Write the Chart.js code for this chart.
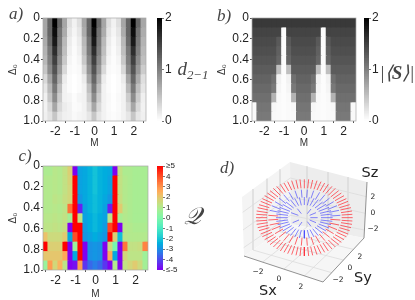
<!DOCTYPE html>
<html><head><meta charset="utf-8">
<style>
html,body{margin:0;padding:0;background:#fff;width:415px;height:300px;overflow:hidden}
#wrap{position:relative;width:415px;height:300px;filter:blur(0.35px)}
canvas{position:absolute}
.t{position:absolute;transform:translate(-50%,-50%);white-space:nowrap;color:#222;font-family:"DejaVu Sans",sans-serif;line-height:1}
.m{font-family:"Liberation Serif",serif;font-style:italic;color:#444}
sub{font-size:.68em;vertical-align:-.35em;line-height:0}
</style>
<script src="https://cdn.jsdelivr.net/npm/chart.js@4"></script>
</head><body><div id="wrap"></div>
<script>
const mValues=[-2.5,-2.25,-2,-1.75,-1.5,-1.25,-1,-0.75,-0.5,-0.25,0,0.25,0.5,0.75,1,1.25,1.5,1.75,2,2.25,2.5];
const deltaTicks=[0,0.2,0.4,0.6,0.8,1];
const d21Ticks=[0,1,2];
const spinTicks=[0,1,2];
const qTicks=[-5,-4,-3,-2,-1,0,1,2,3,4,5];

const d21Grid=[
[.7,1.2,2,1.2,.7,.25,.1,.25,.7,1.2,2,1.2,.7,.25,.1,.25,.7,1.2,2,1.2,.7],
[.7,1.2,1.9,1.1,.65,.2,.08,.2,.65,1.2,1.9,1.1,.65,.2,.08,.2,.65,1.2,1.9,1.1,.65],
[.65,1.15,1.8,1.05,.55,.15,.05,.15,.55,1.1,1.8,1.05,.55,.15,.05,.15,.55,1.15,1.8,1.05,.6],
[.6,1.05,1.65,1,.5,.12,.03,.12,.5,1.05,1.65,1,.5,.12,.03,.12,.5,1.05,1.65,1,.55],
[.55,1,1.5,.9,.42,.08,.02,.08,.42,.95,1.5,.9,.42,.08,.02,.08,.42,1,1.5,.9,.5],
[.45,.9,1.35,.8,.3,.05,.02,.05,.3,.85,1.35,.8,.3,.05,.02,.05,.3,.9,1.35,.8,.4],
[.3,.7,1.2,.65,.15,.03,0,.03,.15,.7,1.2,.65,.15,.03,0,.03,.15,.7,1.2,.65,.25],
[.2,.55,1.05,.5,.1,.03,0,.03,.1,.5,1.05,.5,.1,.03,0,.03,.1,.55,1.05,.5,.2],
[.12,.45,.9,.4,.1,.08,.02,.08,.1,.4,.9,.4,.1,.05,.01,.05,.1,.4,.9,.4,.12],
[.1,.3,.7,.3,.15,.1,.03,.05,.1,.3,.7,.3,.1,.04,.01,.04,.1,.3,.7,.3,.1],
[.12,.22,.45,.2,.12,.1,.05,.08,.1,.2,.45,.2,.1,.05,.02,.05,.1,.2,.45,.2,.12]];

const spinGrid=[
[1.55,1.55,1.55,1.55,1.55,1.55,1.55,1.55,1.55,1.55,1.55,1.55,1.55,1.55,1.55,1.55,1.55,1.55,1.55,1.55,1.55],
[1.47,1.47,1.47,1.47,1.47,1.47,.02,1.47,1.47,1.47,1.47,1.47,1.47,1.47,.02,1.47,1.47,1.47,1.47,1.47,1.47],
[1.42,1.42,1.42,1.42,1.42,1.3,.02,1.3,1.42,1.42,1.42,1.42,1.42,1.3,.02,1.3,1.42,1.42,1.42,1.42,1.42],
[1.38,1.38,1.38,1.38,1.38,1.25,.02,1.25,1.38,1.38,1.38,1.38,1.38,1.25,.02,1.25,1.38,1.38,1.38,1.38,1.38],
[1.33,1.33,1.33,1.33,1.33,1.2,.02,1.2,1.33,1.33,1.33,1.33,1.33,1.2,.02,1.2,1.33,1.33,1.33,1.33,1.33],
[1.28,1.28,1.28,1.28,1.28,.5,.02,.5,1.28,1.28,1.28,1.28,1.28,.5,.02,.5,1.28,1.28,1.28,1.28,1.28],
[1.22,1.22,1.22,1.22,1.12,.1,.02,.1,1.12,1.22,1.22,1.22,1.12,.1,.02,.1,1.12,1.22,1.22,1.22,1.22],
[1.18,1.18,1.18,1.18,1.05,.08,.02,.08,1.05,1.18,1.18,1.18,1.05,.08,.02,.08,1.05,1.18,1.18,1.18,1.18],
[1.13,1.13,1.13,1.13,.6,.05,.02,.05,.6,1.13,1.13,1.13,.6,.05,.02,.05,.6,1.13,1.13,1.13,1.13],
[.05,1.08,1.08,1.08,.06,.04,.02,.04,.06,1.08,1.08,1.08,.06,.04,.02,.04,.06,1.08,1.08,1.08,.05],
[.05,1.05,1.05,1.05,.05,.04,.02,.04,.05,1.05,1.05,1.05,.05,.04,.02,.04,.05,1.05,1.05,1.05,.05]];

const qGrid=[
[.9,.9,1.1,1,1.3,1.8,-5,-2.7,-2.6,-2.4,-2.1,-2.4,-2.5,-2.6,-5,1.3,.9,.9,.8,.8,.8],
[1,1,1.1,1,1.3,1.7,5,-2.7,-2.6,-2.4,-2.1,-2.4,-2.5,-2.7,5,1.3,1,.9,.8,.8,.8],
[1,1,1.1,1,1.3,1.6,5,-2.7,-2.6,-2.4,-2.1,-2.4,-2.5,-2.7,5,1.3,1,.9,.8,.8,.8],
[1,1,1.2,1.1,1.4,1.6,5,-2.9,-2.6,-2.4,-2.2,-2.4,-2.6,-2.9,5,1.4,1,.9,.8,.8,.8],
[1,1,1.1,1,1.2,3.5,5,-4.6,-2.7,-2.4,-2.2,-2.4,-2.7,-4.6,5,1.9,1.1,.9,.8,.8,.8],
[1.1,1.1,1.2,1.1,1.3,.7,5,1.2,-2.7,-2.5,-2.3,-2.5,-2.7,1.2,5,.8,1,.9,.8,.8,.8],
[1.2,1.2,1.3,1.2,1.4,-5,5,5,-2.8,-2.5,-2.3,-2.5,-2.8,4.1,5,-5,1.1,1,.9,.9,.9],
[2.1,1.5,1.5,1.5,1.9,-2.6,4,5,-2.9,-2.7,-2.5,-2.7,-2.9,5,1.8,-2.2,1.1,1,1,1,1],
[5,1.8,1.8,1.8,5,-5,.5,5,-5,-3,-2.9,-3,-5,1.5,-.2,-5,3.4,1.3,1.3,1.4,3.2],
[2,2,2,2,2.6,-5,-2.6,5,-5,-3,-2.9,-3,-5,2.6,-2.6,-5,1.6,1.2,1.2,1.2,.6],
[.5,2.8,1.6,2.4,1.2,-5,-4.8,2.8,-4.3,-3.6,-3.3,-3.6,-4.3,-5,1,-5,1.3,1.6,1.9,1.5,.7]];

// panel d: arrows, [x0,y0,x1,y1]
const redSegments=[
[395,218,428,218],[393,233,426,238],[388,248,419,257],[380,262,409,275],[369,275,394,292],[355,285,376,306],[339,294,355,318],[321,301,333,326],[302,305,308,331],[283,306,283,333],
[393,203,426,198],[388,188,419,179],[380,174,409,161],[369,161,394,144],[355,151,376,130],[339,142,355,118],[321,135,333,110],[302,131,308,105],[283,130,283,103],
[264,131,258,105],[245,135,233,110],[227,142,211,118],[211,151,190,130],[197,161,172,144],[186,174,157,161],[178,188,147,179],[173,203,140,198],[171,218,138,218],
[173,233,140,238],[178,248,147,257],[186,262,157,275],[197,275,172,292],[211,285,190,306],[227,294,211,318],[245,301,233,326],[264,305,258,331],
[395,226,427,228],[391,241,423,248],[384,255,414,267],[375,269,402,284],[362,280,386,299],[347,290,366,312],[330,298,344,322],[312,303,321,329],[293,306,296,333],
[395,210,427,208],[391,195,423,188],[384,181,414,169],[375,167,402,152],[362,156,386,137],[347,146,366,124],[330,138,344,114],[312,133,321,107],[293,130,296,103],
[171,210,139,208],[175,195,143,188],[182,181,152,169],[191,167,164,152],[204,156,180,137],[219,146,200,124],[236,138,222,114],[254,133,245,107],[273,130,270,103],
[171,226,139,228],[175,241,143,248],[182,255,152,267],[191,269,164,284],[204,280,180,299],[219,290,200,312],[236,298,222,322],[254,303,245,329],[273,306,270,333],
[361,223,391,225],[354,243,381,254],[338,260,359,277],[316,272,329,294],[290,278,292,302],[263,276,255,299],[238,267,221,287],[219,252,195,266],[208,234,179,240],[205,213,175,211],
[358,234,387,240],[347,252,371,266],[328,267,345,287],[303,276,311,299],[276,278,274,302],[250,272,237,294],[228,260,207,277],[212,243,185,254],[205,223,175,225]];
const blueSegments=[
[332,225,367,229],[326,237,357,249],[315,247,338,265],[300,254,312,276],[283,256,283,280],[266,254,254,276],[251,247,228,265],[240,237,209,249],[234,225,199,229],
[234,211,199,207],[240,199,209,187],[251,189,228,171],[266,182,254,160],[283,180,283,156],[300,182,312,160],[315,189,338,171],[326,199,357,187],[332,211,367,207],
[333,218,368,218],[330,231,363,239],[321,242,348,258],[308,251,325,272],[292,255,298,279],[274,255,268,279],[258,251,241,272],[245,242,218,258],[236,231,203,239],
[233,218,198,218],[236,205,203,197],[245,194,218,178],[258,185,241,164],[274,181,268,157],[292,181,298,157],[308,185,325,164],[321,194,348,178],[330,205,363,197],
[208,202,179,196],[219,184,195,170],[238,169,221,149],[263,160,255,137],[290,158,292,134],[316,164,329,142],[338,176,359,159],[354,193,381,182],[361,213,391,211],
[212,193,185,182],[228,176,207,159],[250,164,237,142],[276,158,274,134],[303,160,311,137],[328,169,345,149],[347,184,371,170],[358,202,387,196],
[301,218,323,218],[299,225,318,233],[292,230,303,244],[276,231,266,245],[267,225,248,233],[265,211,243,203],[274,206,262,191],[292,206,303,192],[299,211,318,203]];
const leftWall=[[96,156],[240,51],[243,237],[102,333],[96,156]];
const rightWall=[[240,51],[471,111],[462,279],[243,237],[240,51]];
const floorPane=[[102,333],[243,237],[462,279],[339,411],[102,333]];
const gridSegments=[
[129,132,129,315],[171,101,171,286],[210,73,210,260],[291,64,291,246],[354,81,354,258],[414,96,414,269],
[98,202,241,99],[99,255,241,155],[101,308,242,211],[241,99,469,155],[241,155,466,205],[242,211,463,255],
[158,351,291,246],[222,372,354,258],[283,393,414,269],[129,315,365,383],[171,286,400,345],[210,260,430,313]];
const edgeSegments=[[102,333,339,411],[339,411,462,279],[462,279,471,111]];

Chart.defaults.font.family='"Liberation Sans",Arial,sans-serif';
Chart.defaults.color='#222';
const wrap=document.getElementById('wrap');
function mk(x,y,w,h){const c=document.createElement('canvas');c.width=w;c.height=h;c.style.left=x+'px';c.style.top=y+'px';c.style.width=w+'px';c.style.height=h+'px';wrap.appendChild(c);return c;}
const grayColor=v=>{const g=Math.round(255*(1-Math.min(2,Math.max(0,v))/2));return `rgb(${g},${g},${g})`;};
const rainbowColor=v=>{const t=(Math.max(-5,Math.min(5,v))+5)/10;
 const r=Math.min(1,Math.abs(2*t-.5)),g=Math.sin(Math.PI*t),b=Math.cos(Math.PI*t/2);
 return `rgb(${Math.round(r*255)},${Math.round(g*245)},${Math.round(b*240)})`;};
const framePlugin={id:'frame',afterDatasetsDraw(ch){const a=ch.chartArea,c=ch.ctx;c.save();c.strokeStyle='#a8a8a8';c.lineWidth=.7;c.strokeRect(a.left,a.top,a.right-a.left,a.bottom-a.top);c.restore();}};

function heat(x,y,w,h,pad,axW,axH,grid,colorOf){
 const rows=grid.length;
 const datasets=grid.map((row,i)=>({data:row.map(()=>[i/rows-.012,(i+1)/rows]),backgroundColor:row.map(colorOf),borderWidth:0,barPercentage:1.22,categoryPercentage:1,grouped:false}));
 new Chart(mk(x,y,w,h),{type:'bar',data:{labels:mValues,datasets},plugins:[framePlugin],options:{
  responsive:false,animation:false,devicePixelRatio:1,layout:{padding:pad},
  plugins:{legend:{display:false},tooltip:{enabled:false}},
  scales:{
   x:{type:'category',grid:{display:true,drawOnChartArea:false,tickLength:2,tickColor:'#555'},border:{display:false},
      ticks:{autoSkip:false,maxRotation:0,padding:1,font:{size:12},callback(v){const m=mValues[v];return Number.isInteger(m)?String(m):'';}},
      afterBuildTicks(s){s.ticks=s.ticks.filter(t=>Number.isInteger(mValues[t.value]));},
      afterFit(s){s.height=axH;},
      title:{display:true,text:'M',font:{size:10},padding:0,color:'#333'}},
   y:{type:'linear',reverse:true,min:0,max:1,grid:{display:true,drawOnChartArea:false,tickLength:2,tickColor:'#555'},border:{display:false},
      ticks:{stepSize:.2,padding:1,font:{size:12},callback(v){return deltaTicks.some(d=>Math.abs(d-v)<1e-6)?(v===0?'0':v.toFixed(1)):'';}},
      afterFit(s){s.width=axW;},
      title:{display:true,text:'Δ₀',font:{size:10},padding:{top:7,bottom:0},color:'#333'}}
  }}});
}
function colorbar(x,y,w,h,pad,axW,min,max,ticks,colorOf,fmt,fs,levels){
 const step=(max-min)/levels.length;
 const datasets=levels.map(v=>({data:[[v-step,v+step/2]],backgroundColor:colorOf(v),borderWidth:0,barPercentage:1,categoryPercentage:1,grouped:false}));
 new Chart(mk(x,y,w,h),{type:'bar',data:{labels:[''],datasets},options:{
  responsive:false,animation:false,devicePixelRatio:1,layout:{padding:pad},
  plugins:{legend:{display:false},tooltip:{enabled:false}},
  scales:{x:{display:false},
   y:{type:'linear',position:'right',min,max,grid:{drawOnChartArea:false,tickLength:2,tickColor:'#777'},border:{display:false},
      afterBuildTicks(s){s.ticks=ticks.map(value=>({value}));},
      ticks:{padding:1,autoSkip:false,font:{size:fs},callback:fmt},
      afterFit(s){s.width=axW;}}}}});
}
const bandsGray=[];for(let i=0;i<64;i++)bandsGray.push((i+.5)/32);
const bandsQ=[];for(let i=0;i<64;i++)bandsQ.push(-5+(i+.5)*10/64);

heat(0,0,150,149,{top:18,right:4},43,28,d21Grid,grayColor);
heat(209,0,151,149,{top:18,right:4},43,28,spinGrid,grayColor);
heat(0,148,152,152,{top:18,right:4},43,30,qGrid,rainbowColor);
colorbar(157,0,25,130,{top:18,bottom:9},20,0,2,d21Ticks,grayColor,v=>String(v),12,bandsGray);
colorbar(364,0,25,130,{top:18,bottom:9},20,0,2,spinTicks,grayColor,v=>String(v),12,bandsGray);
colorbar(157,148,30,130,{top:18,bottom:8},24,-5,5,qTicks,rainbowColor,v=>v===5?'≥5':v===-5?'≤-5':String(v),8,bandsQ);

const toPts=a=>a.map(p=>({x:p[0],y:p[1]}));
const segSets=(list,color,width)=>list.map(q=>({data:[{x:q[0],y:q[1]},{x:q[2],y:q[3]}],showLine:true,borderColor:color,borderWidth:width,pointRadius:0,fill:false}));
// Chart.js paints the first dataset on top, so the panes come last
new Chart(mk(210,145,205,155),{type:'scatter',data:{datasets:[
 ...segSets(blueSegments,'rgba(50,50,255,.65)',.9),
 ...segSets(redSegments,'rgba(255,40,50,.75)',.95),
 ...segSets(edgeSegments,'#777',.8),
 ...segSets(gridSegments,'#dcdcdc',.8),
 {data:toPts(floorPane),showLine:true,fill:'shape',backgroundColor:'#f6f6f6',borderWidth:0,pointRadius:0},
 {data:toPts(rightWall),showLine:true,fill:'shape',backgroundColor:'#ededed',borderWidth:0,pointRadius:0},
 {data:toPts(leftWall),showLine:true,fill:'shape',backgroundColor:'#f4f4f4',borderWidth:0,pointRadius:0}
]},options:{responsive:false,animation:false,devicePixelRatio:1,layout:{padding:0},
 plugins:{legend:{display:false},tooltip:{enabled:false}},
 scales:{x:{type:'linear',display:false,min:0,max:615},y:{type:'linear',display:false,reverse:true,min:0,max:465}}}});

const notes=[
 ['<i>a)</i>',16,13,17,'m'],['<i>b)</i>',224,15,17,'m'],['<i>c)</i>',25,155,17,'m'],['<i>d)</i>',227,167,17,'m'],
 ['d<sub>2−1</sub>',193,68,19,'m'],['|⟨<b>S</b>⟩|',397,72,19,'m'],['𝒬',192,216,24,'m'],
 ['Sx',268,290,14.5,''],['Sy',363,277,14.5,''],['Sz',370,172,14.5,''],
 ['−2',258,272,7.5,''],['0',279,279,7.5,''],['2',301,287,7.5,''],
 ['−2',338,280,7.5,''],['0',350,268,7.5,''],['2',360,257,7.5,''],
 ['2',373,197,7.5,''],['0',373,213,7.5,''],['−2',373,229,7.5,'']];
notes.forEach(n=>{const d=document.createElement('div');d.className='t '+n[4];d.innerHTML=n[0];d.style.left=n[1]+'px';d.style.top=n[2]+'px';d.style.fontSize=n[3]+'px';wrap.appendChild(d);});
</script></body></html>
